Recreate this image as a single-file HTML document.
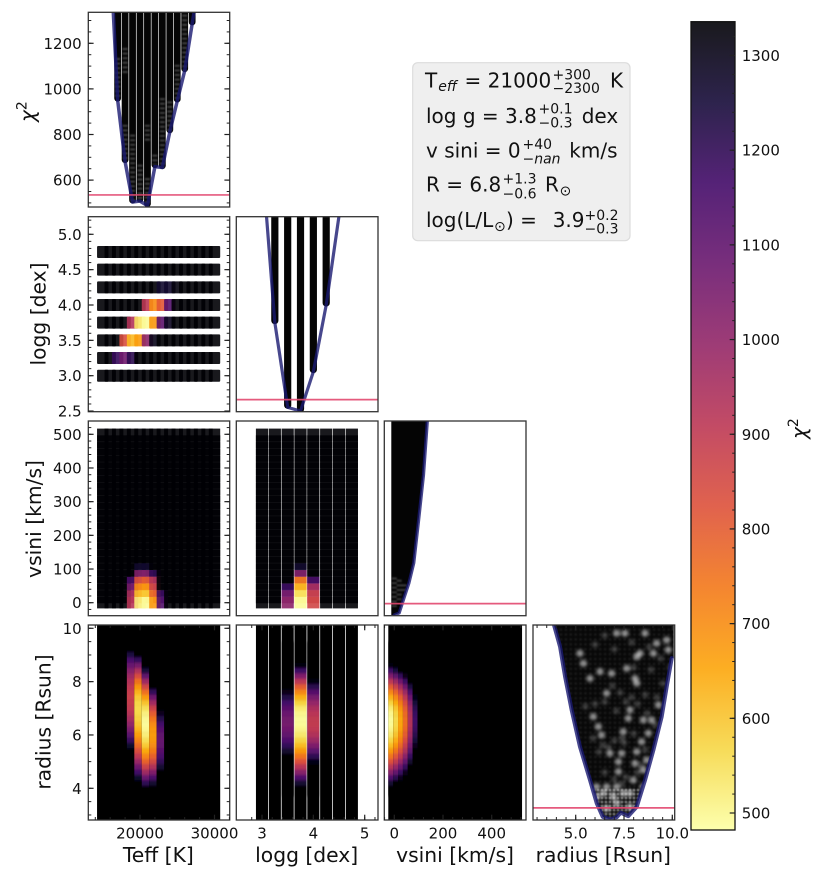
<!DOCTYPE html>
<html lang="en">
<head>
<meta charset="utf-8">
<title>Corner plot of chi-squared grid</title>
<style>
html,body{margin:0;padding:0;background:#fff;}
svg{display:block;font-family:"DejaVu Sans","Liberation Sans",sans-serif;fill:#111;filter:blur(0.35px);}
</style>
</head>
<body>
<svg id="figure" xmlns="http://www.w3.org/2000/svg" width="823" height="880" viewBox="0 0 823 880">
  <defs>
    <clipPath id="c00"><rect x="88.3" y="12.3" width="141.4" height="194.7"/></clipPath>
    <clipPath id="c10"><rect x="88.3" y="216.7" width="141.4" height="195"/></clipPath>
    <clipPath id="c11"><rect x="236.3" y="216.7" width="141.7" height="195"/></clipPath>
    <clipPath id="c20"><rect x="88.3" y="421" width="141.4" height="194.7"/></clipPath>
    <clipPath id="c21"><rect x="236.3" y="421" width="141.7" height="194.7"/></clipPath>
    <clipPath id="c22"><rect x="384.3" y="421" width="141.7" height="194.7"/></clipPath>
    <clipPath id="c30"><rect x="88.3" y="625" width="141.4" height="195"/></clipPath>
    <clipPath id="c31"><rect x="236.3" y="625" width="141.7" height="195"/></clipPath>
    <clipPath id="c32"><rect x="384.3" y="625" width="141.7" height="195"/></clipPath>
    <clipPath id="c33"><rect x="533" y="625" width="141.7" height="195"/></clipPath>
    <filter id="blurV" filterUnits="userSpaceOnUse" x="0" y="600" width="823" height="240"><feGaussianBlur stdDeviation="0 1.4"/></filter>
    <filter id="blurS" filterUnits="userSpaceOnUse" x="0" y="0" width="823" height="880"><feGaussianBlur stdDeviation="0.7"/></filter>
    <filter id="blurB" filterUnits="userSpaceOnUse" x="0" y="0" width="823" height="880"><feGaussianBlur stdDeviation="1.5"/></filter>
    <pattern id="meshFaint" width="4.9" height="4.9" patternUnits="userSpaceOnUse"><circle cx="2.4" cy="2.4" r="1.3" fill="#fff" fill-opacity="0.07"/></pattern>
    <pattern id="meshDense" width="4" height="4" patternUnits="userSpaceOnUse"><circle cx="2" cy="2" r="1.3" fill="#fff" fill-opacity="0.55"/></pattern>
    <linearGradient id="cbGradient" x1="0" y1="0" x2="0" y2="1"></linearGradient>
  </defs>
  <rect x="0" y="0" width="823" height="880" fill="#fff"/>

  <g id="p00" clip-path="url(#c00)"></g>
  <g id="p10" clip-path="url(#c10)"></g>
  <g id="p11" clip-path="url(#c11)"></g>
  <g id="p20" clip-path="url(#c20)"></g>
  <g id="p21" clip-path="url(#c21)"></g>
  <g id="p22" clip-path="url(#c22)"></g>
  <g id="p30" clip-path="url(#c30)"></g>
  <g id="p31" clip-path="url(#c31)"></g>
  <g id="p32" clip-path="url(#c32)"></g>
  <g id="p33" clip-path="url(#c33)"></g>
  <g id="axes" fill="#111" font-size="15"></g>

  <text transform="translate(34.5 122) rotate(-90)" font-size="20"><tspan font-style="italic">χ</tspan><tspan font-size="14" dy="-8">2</tspan></text>
  <text transform="translate(45.5 314) rotate(-90)" font-size="20.3" text-anchor="middle">logg [dex]</text>
  <text transform="translate(41 519) rotate(-90)" font-size="20.3" text-anchor="middle">vsini [km/s]</text>
  <text transform="translate(50.5 722) rotate(-90)" font-size="20.3" text-anchor="middle">radius [Rsun]</text>
  <text x="158.3" y="862" font-size="20.3" text-anchor="middle">Teff [K]</text>
  <text x="306.7" y="862" font-size="20.3" text-anchor="middle">logg [dex]</text>
  <text x="455" y="862" font-size="20.3" text-anchor="middle">vsini [km/s]</text>
  <text x="603.3" y="862" font-size="20.3" text-anchor="middle">radius [Rsun]</text>

  <g font-size="20" fill="#111">
    <rect x="412.7" y="62.7" width="217.3" height="178" rx="5" fill="#efefef" stroke="#dcdcdc" stroke-width="1.2"/>
    <g>
      <text x="425" y="87.3">T</text><text x="438.3" y="91" font-size="14" font-style="italic">eff</text>
      <text x="464.5" y="87.3">= 21000</text>
      <text x="552.5" y="79.3" font-size="14">+300</text><text x="552.5" y="93" font-size="14">−2300</text>
      <text x="610" y="87.3">K</text>
    </g>
    <g>
      <text x="426" y="123">log g = 3.8</text>
      <text x="538.5" y="113.3" font-size="14">+0.1</text><text x="538.5" y="127.3" font-size="14">−0.3</text>
      <text x="581.7" y="123">dex</text>
    </g>
    <g>
      <text x="426" y="157.7">v sini = 0</text>
      <text x="522.5" y="149" font-size="14">+40</text><text x="522.5" y="163.3" font-size="14">−<tspan font-style="italic">nan</tspan></text>
      <text x="569.3" y="157.7">km/s</text>
    </g>
    <g>
      <text x="426" y="191.7">R = 6.8</text>
      <text x="502.5" y="183.3" font-size="14">+1.3</text><text x="502.5" y="198.3" font-size="14">−0.6</text>
      <text x="545" y="191.7">R</text><text x="559.5" y="195.5" font-size="14">⊙</text>
    </g>
    <g>
      <text x="426" y="227">log(L/L</text><text x="494" y="231" font-size="14">⊙</text>
      <text x="506" y="227">) =</text>
      <text x="552.7" y="227">3.9</text>
      <text x="584.5" y="220" font-size="14">+0.2</text><text x="584.5" y="233.5" font-size="14">−0.3</text>
    </g>
  </g>

  <g id="colorbar" font-size="15"></g>
  <text transform="translate(806 439) rotate(-90)" font-size="20"><tspan font-style="italic">χ</tspan><tspan font-size="14" dy="-8">2</tspan></text>
</svg>

<script>
// ---------- grids ----------
const teffGrid = [15000,16000,17000,18000,19000,20000,21000,22000,23000,24000,25000,26000,27000,28000,29000,30000];
const loggGrid = [3.0,3.25,3.5,3.75,4.0,4.25,4.5,4.75];
const vsiniGrid = [0,20,40,60,80,100,120,140,160,180,200,220,240,260,280,300,320,340,360,380,400,420,440,460,480,500];
const radiusRows = [9.4,9.2,9.0,8.8,8.6,8.4,8.2,8.0,7.8,7.6,7.4,7.2,7.0,6.8,6.6,6.4,6.2,6.0,5.8,5.6,5.4,5.2,5.0,4.8,4.6,4.4,4.2,4.0,3.8];
const F = 1400; // chi2 above colour range: renders black

// ---------- Teff vs logg cells (rows follow loggRowsShown, columns follow teffGrid) ----------
const loggRowsShown = [4.75,4.5,4.25,4.0,3.75,3.5,3.25,3.0];
const teffLoggChi2 = [
 [F,F,F,F,F,F,F,F,F,F,F,F,F,F,F,F],
 [F,F,F,F,F,F,F,F,F,F,F,F,F,F,F,F],
 [F,F,F,F,F,F,F,F,1270,1270,1320,F,F,F,F,F],
 [F,F,F,F,F,1380,910,700,810,1130,F,F,F,F,F,F],
 [F,F,F,F,930,540,490,680,1110,1290,F,F,F,F,F,F],
 [F,F,F,840,620,670,1010,1300,F,F,F,F,F,F,F,F],
 [F,F,1190,1070,1210,F,F,F,F,F,F,F,F,F,F,F],
 [F,F,F,F,F,F,F,F,F,F,F,F,F,F,F,F]
];

// ---------- vsini cells with chi2 in range; every other vsini row is above range ----------
const vsiniRowsHot = [0,20,40,60,80,100];
const teffVsiniChi2 = [
 [F,F,F,F,920,520,490,680,1130,F,F,F,F,F,F,F],
 [F,F,F,F,950,610,590,780,1180,F,F,F,F,F,F,F],
 [F,F,F,F,1050,700,680,870,F,F,F,F,F,F,F,F],
 [F,F,F,F,1150,820,800,930,F,F,F,F,F,F,F,F],
 [F,F,F,F,F,1030,1030,1200,F,F,F,F,F,F,F,F],
 [F,F,F,F,F,1270,1270,F,F,F,F,F,F,F,F,F]
];
const loggVsiniChi2 = [
 [F,F,1010,490,860,F,F,F],
 [F,F,1050,540,880,F,F,F],
 [F,F,1180,620,950,F,F,F],
 [F,F,F,730,1150,F,F,F],
 [F,F,F,1030,F,F,F,F],
 [F,F,F,1270,F,F,F,F]
];

// ---------- radius columns (values follow radiusRows) ----------
const teffRadiusT19000 = [F,1336,1240,1156,1083,1021,970,931,902,886,880,885,899,923,957,1000,1053,1115,1187,1269,1350,F,F,F,F,F,F,F,F];
const teffRadiusT20000 = [F,F,1336,1189,1057,940,839,754,684,630,591,568,560,564,577,598,628,666,713,768,832,903,984,1072,1169,1274,1388,F,F];
const teffRadiusT21000 = [F,F,F,F,F,1254,1105,973,856,756,671,603,551,515,495,490,499,519,550,592,645,710,786,874,973,1083,1204,1336,F];
const teffRadiusT22000 = [F,F,F,F,F,F,F,F,1336,1195,1072,965,875,801,744,703,678,670,677,699,736,788,854,935,1033,1141,1265,F,F];
const teffRadiusT23000 = [F,F,F,F,F,F,F,F,F,F,F,F,1350,1293,1220,1163,1122,1098,1090,1097,1117,1152,1199,1261,1336,F,F,F,F];
const teffRadiusColumns = {19000:teffRadiusT19000,20000:teffRadiusT20000,21000:teffRadiusT21000,22000:teffRadiusT22000,23000:teffRadiusT23000};

const loggRadius350 = [F,F,F,F,F,F,F,F,F,1307,1229,1165,1117,1083,1064,1060,1072,1098,1139,1195,1266,1351,F,F,F,F,F,F,F];
const loggRadius375 = [F,F,F,F,1330,1174,1034,910,802,710,634,574,530,502,490,493,507,532,569,616,675,745,826,919,1022,1137,1263,F,F];
const loggRadius400 = [F,F,F,F,F,F,F,1315,1214,1126,1053,993,948,916,899,895,907,935,979,1038,1113,1204,1311,F,F,F,F,F,F];
const loggRadiusColumns = {3.5:loggRadius350,3.75:loggRadius375,4:loggRadius400};

const vsiniRadius0 = [F,F,F,F,1330,1174,1034,910,802,710,634,574,530,502,490,493,507,532,569,616,675,745,826,919,1022,1137,1263,F,F];
const vsiniRadius20 = [F,F,F,F,F,1244,1104,980,872,780,704,644,600,572,560,563,577,602,639,686,745,815,896,989,1092,1207,1333,F,F];
const vsiniRadius40 = [F,F,F,F,F,1334,1194,1070,962,870,794,734,690,662,650,653,667,692,729,776,835,905,986,1079,1182,1297,F,F,F];
const vsiniRadius60 = [F,F,F,F,F,F,1304,1180,1072,980,904,844,800,772,760,763,777,802,839,886,945,1015,1096,1189,1292,F,F,F,F];
const vsiniRadius80 = [F,F,F,F,F,F,F,1350,1242,1150,1074,1014,970,942,930,933,947,972,1009,1056,1115,1185,1266,1359,F,F,F,F,F];
const vsiniRadius100 = [F,F,F,F,F,F,F,F,F,F,1314,1254,1210,1182,1170,1173,1187,1212,1249,1296,1355,F,F,F,F,F,F,F,F];
const vsiniRadiusColumns = {0:vsiniRadius0,20:vsiniRadius20,40:vsiniRadius40,60:vsiniRadius60,80:vsiniRadius80,100:vsiniRadius100};

// ---------- chi2 lower envelopes ----------
const teffEnvelopeT = [16000,17000,18000,19000,20000,21000,22000,23000,24000,25000,26000,27000,28000];
const teffEnvelopeChi2 = [1610,951,681,504,508,488,659,655,812,947,1080,1285,1490];
const loggEnvelopeG = [3.0,3.25,3.5,3.75,4.0,4.25,4.5];
const loggEnvelopeChi2 = [1590,872,501,485,657,949,1340];
const vsiniEnvelopeV = [0,20,40,60,80,100,120,140];
const vsiniEnvelopeChi2 = [485,494,560,625,713,902,1100,1400];
const radiusEnvelopeR = [3.89,4.19,4.45,4.79,5.22,5.74,6.09,6.40,6.78,7.12,7.33,7.72,8.16,8.59,9.02,9.45,9.71,9.97];
const radiusEnvelopeChi2 = [1332,1241,1110,964,803,657,555,496,485,494,514,499,540,657,788,934,1066,1191];
const bestChi2Limit = 535;

// ---------- light, sparsely sampled stretches in the scatter columns ----------
const teffPatchT = [17000,18000,18000,19000,20000,21000,21000,22000,23000,24000,25000,26000];
const teffPatchHigh = [1136,1180,843,800,668,843,609,712,960,946,1106,1326];
const teffPatchLow = [960,1060,682,492,492,770,492,668,653,814,946,1077];
const vsiniPatchV = [0,20,40];
const vsiniPatchHigh = [650,640,620];
const vsiniPatchLow = [520,540,580];

// ---------- bright and dim clumps in the radius scatter ----------
const clumpRadius = [7.55,8.59,9.19,9.02,9.71,9.79,8.33,8.16,7.12,6.86,6.26,8.07,8.16,5.74,7.64,7.81,7.72,5.91,6.17,6.34,7.46,8.41,8.76,8.93,9.28,7.21,8.07,8.16,7.38,7.21,7.12,6.43,7.81,6.6,7.81,7.12,6.77,8.5,6.6,5.22,5.4,6.08,6.6,8.5,7.46,6.08,6.95,7.98,8.5,8.67];
const clumpChi2 = [1300,1300,1256,1212,1270,1227,1212,1197,1300,1124,1132,1102,1081,1102,1146,964,927,935,891,854,869,825,862,920,986,737,730,781,774,694,628,599,599,533,540,555,774,920,1037,1212,1168,628,628,628,599,584,584,657,701,745];
const dimClumpRadius = [6.0,6.5,7.0,7.9,8.8,9.4,9.9,8.0,8.9,9.5,6.9,7.3,7.9,8.6,9.2,5.5,6.0,6.5,7.1,7.6,8.2,8.7,9.1,5.9,6.4,7.0,7.5,8.6,6.2,6.7,7.4,8.0,8.4,6.5,7.0,7.6,8.2,6.9,7.4];
const dimClumpChi2 = [1250,1290,1230,1260,1240,1190,1150,1150,1140,1080,1070,1040,1020,1030,1020,980,990,1000,960,1000,990,950,900,840,810,830,820,790,780,800,840,860,720,690,660,670,690,600,640];
const denseBandChi2 = 625;

// ---------- axis ticks ----------
const chi2Ticks = [600,800,1000,1200];
const loggYTicks = [2.5,3,3.5,4,4.5,5];
const loggYLabels = ['2.5','3.0','3.5','4.0','4.5','5.0'];
const vsiniYTicks = [0,100,200,300,400,500];
const radiusYTicks = [4,6,8,10];
const teffXTicks = [20000,30000];
const loggXTicks = [3,4,5];
const vsiniXTicks = [0,200,400];
const radiusXTicks = [5,7.5,10];
const radiusXLabels = ['5.0','7.5','10.0'];
const cbTicks = [500,600,700,800,900,1000,1100,1200,1300];

// ---------- colour map ----------
const infernoStops = ['#000004','#160b39','#420a68','#6a176e','#932667','#bc3754','#dd513a','#f37819','#fca50a','#f6d746','#fcffa4'];
const chi2Min = 482, chi2Max = 1336, alpha = 0.9;

function hexRgb(h){return [parseInt(h.slice(1,3),16),parseInt(h.slice(3,5),16),parseInt(h.slice(5,7),16)];}
function chi2Color(c){
  let t = 1-(c-chi2Min)/(chi2Max-chi2Min);
  t = Math.max(0,Math.min(1,t));
  const p = t*(infernoStops.length-1), i = Math.min(Math.floor(p),infernoStops.length-2), f = p-i;
  const a = hexRgb(infernoStops[i]), b = hexRgb(infernoStops[i+1]);
  return 'rgb('+a.map((v,k)=>Math.round(v+(b[k]-v)*f)).join(',')+')';
}
function linear(d0,d1,r0,r1){return v=>r0+(v-d0)*(r1-r0)/(d1-d0);}

// ---------- axis functions ----------
const teffX = linear(20000,30000,140,214.5);
const loggX = linear(3,5,262,364.7);
const vsiniX = linear(0,400,394.3,491.7);
const radiusX = linear(5,10,575.7,672.3);
const loggY = linear(5,3,234.3,375.7);
const vsiniY = linear(500,0,434.3,602.7);
const radiusY = linear(10,4,628.3,788.3);
const chi2YRow0 = linear(chi2Max,chi2Min,12.3,207);
const chi2YRow1 = linear(chi2Max,chi2Min,216.7,411.7);
const chi2YRow2 = linear(chi2Max,chi2Min,421,615.7);
const chi2YRow3 = linear(chi2Max,chi2Min,625,820);
const cbY = linear(1300,500,55.5,813);

const NS = 'http://www.w3.org/2000/svg';
function make(parent,tag,attrs){
  const el = document.createElementNS(NS,tag);
  for(const k in attrs) el.setAttribute(k,attrs[k]);
  parent.appendChild(el);
  return el;
}
const $ = id => document.getElementById(id);

// ---------- heat cells drawn as overlapping translucent square markers ----------
function drawTeffLogg(){
  const g = $('p10');
  loggRowsShown.forEach((lg,r)=>{
    teffGrid.forEach((t,c)=>{
      const el = make(g,'rect',{x:teffX(t)-5.7,y:loggY(lg)-6,width:11.4,height:12,rx:1,fill:chi2Color(teffLoggChi2[r][c]),'fill-opacity':alpha});
      
      
    });
  });
}
function cellChi2(rows,matrix,v,c){
  const idx = rows.indexOf(v);
  return idx<0 ? F : matrix[idx][c];
}
function markerHeight(v){return v===vsiniGrid[0] ? 11.4 : 13;}
function drawTeffVsini(){
  const g = $('p20');
  for(let r=vsiniGrid.length-1;r>=0;r--){
    teffGrid.forEach((t,c)=>{
      const el = make(g,'rect',{x:teffX(t)-5.7,y:vsiniY(vsiniGrid[r])-5.7,width:11.4,height:markerHeight(vsiniGrid[r]),fill:chi2Color(cellChi2(vsiniRowsHot,teffVsiniChi2,vsiniGrid[r],c)),'fill-opacity':alpha});
      
      
    });
  }
}
function drawLoggVsini(){
  const g = $('p21');
  for(let r=vsiniGrid.length-1;r>=0;r--){
    loggGrid.forEach((lg,c)=>{
      const el = make(g,'rect',{x:loggX(lg)-6.1,y:vsiniY(vsiniGrid[r])-5.7,width:12.2,height:markerHeight(vsiniGrid[r]),fill:chi2Color(cellChi2(vsiniRowsHot,loggVsiniChi2,vsiniGrid[r],c)),'fill-opacity':alpha});
      
      
    });
  }
}
function drawRadiusHeat(panel,grid,xFn,halfW,columns,name){
  const outer = $(panel);
  const g = make(outer,'g',{filter:'url(#blurV)'});
  
  
  grid.forEach(v=>{
    const base = make(g,'rect',{x:xFn(v)-halfW,y:600,width:2*halfW,height:240,fill:'#000003'});
    
    
    const col = columns[v];
    if(!col) return;
    radiusRows.forEach((r,i)=>{
      const el = make(g,'rect',{x:xFn(v)-halfW,y:radiusY(r)-2.75,width:2*halfW,height:5.5,fill:chi2Color(col[i])});
      
      
    });
  });
}

// ---------- chi2 scatter columns ----------
function drawColumns(panel,xs,chis,xFn,yFn,barW,name){
  const g = $(panel);
  xs.forEach((x,i)=>{
    const top = yFn(chi2Max)-12, bottom = yFn(chis[i])+1.5;
    if(bottom<=yFn(chi2Max)) return;
    const el = make(g,'rect',{x:xFn(x)-barW/2,y:top,width:barW,height:bottom-top,rx:barW/2,fill:'#050505'});
    
    
  });
}
function drawPatches(panel,xs,hi,lo,xFn,yFn,w,op,name){
  const g = make($(panel),'g',{filter:'url(#blurS)'});
  
  
  xs.forEach((x,i)=>{
    const el = make(g,'line',{x1:xFn(x),x2:xFn(x),y1:yFn(hi[i]),y2:yFn(lo[i]),stroke:'#fff','stroke-opacity':op,'stroke-width':w,'stroke-dasharray':'2.2 2.4'});
    
    
  });
}
function drawEnvelope(panel,xs,chis,xFn,yFn,w,name){
  const pts = xs.map((x,i)=>xFn(x).toFixed(2)+','+yFn(chis[i]).toFixed(2)).join(' ');
  const el = make($(panel),'polyline',{points:pts,fill:'none',stroke:'rgb(25,25,112)','stroke-opacity':0.8,'stroke-width':w,'stroke-linejoin':'round','stroke-linecap':'round'});
  
  
}
function drawLimit(panel,x0,x1,yFn,name){
  const y = yFn(bestChi2Limit);
  const el = make($(panel),'line',{x1:x0,x2:x1,y1:y,y2:y,stroke:'#e2486f','stroke-opacity':0.9,'stroke-width':1.7});
  
  
}
function drawVsiniFill(){
  // filled body of the vsini scatter between the left edge and the lower envelope
  const g = $('p22');
  const leftX = vsiniX(vsiniEnvelopeV[0])-3;
  const pts = [[leftX,chi2YRow2(chi2Max)-12],[leftX,chi2YRow2(vsiniEnvelopeChi2[0])]]
    .concat(vsiniEnvelopeV.map((v,i)=>[vsiniX(v),chi2YRow2(vsiniEnvelopeChi2[i])]))
    .map(p=>p[0].toFixed(2)+','+p[1].toFixed(2)).join(' ');
  const el = make(g,'polygon',{points:pts,fill:'#040404'});
  
  
}
function drawRadiusScatter(){
  const g = $('p33');
  const topChi = chi2Max+40;
  const xs = radiusEnvelopeR.slice(), ys = radiusEnvelopeChi2.slice();
  const pts = [[radiusX(xs[0]),chi2YRow3(topChi)]]
    .concat(xs.map((x,i)=>[radiusX(x),chi2YRow3(ys[i])]))
    .concat([[radiusX(xs[xs.length-1])+2,chi2YRow3(ys[ys.length-1])],[radiusX(xs[xs.length-1])+2,chi2YRow3(topChi)]])
    .map(p=>p[0].toFixed(2)+','+p[1].toFixed(2)).join(' ');
  const body = make(g,'polygon',{points:pts,fill:'#080808'});
  
  

  const defs = document.querySelector('defs');
  const clip = make(defs,'clipPath',{id:'radiusBody'});
  make(clip,'polygon',{points:pts});

  const texture = make(g,'g',{'clip-path':'url(#radiusBody)'});
  
  
  const meshWrap = make(texture,'g',{filter:'url(#blurS)'});
  
  
  const mesh = make(meshWrap,'rect',{x:533,y:625,width:142,height:195,fill:'url(#meshFaint)'});
  
  
  const bandY = chi2YRow3(denseBandChi2);
  const band = make(meshWrap,'rect',{x:533,y:bandY,width:142,height:820-bandY,fill:'url(#meshDense)'});
  
  

  const cl = make(texture,'g',{filter:'url(#blurB)'});
  
  
  dimClumpRadius.forEach((r,i)=>{
    const el = make(cl,'circle',{cx:radiusX(r),cy:chi2YRow3(dimClumpChi2[i]),r:3.2,fill:'#fff','fill-opacity':0.22});
    
    
  });
  clumpRadius.forEach((r,i)=>{
    const el = make(cl,'circle',{cx:radiusX(r),cy:chi2YRow3(clumpChi2[i]),r:3.6,fill:'#fff','fill-opacity':0.55});
    
    
  });
}

// ---------- frames and ticks ----------
function frame(x0,y0,x1,y1,name){
  const el = make($('axes'),'rect',{x:x0,y:y0,width:x1-x0,height:y1-y0,fill:'none',stroke:'#333','stroke-width':1.3});
  
  
}
function yTicks(x0,x1,y0,y1,fn,majors,minorFrom,minorTo,minorStep,labels,name){
  const g = $('axes');
  for(let v=minorFrom;v<=minorTo+1e-9;v+=minorStep){
    const y = fn(v);
    if(y<y0||y>y1) continue;
    [[x0,x0+3],[x1,x1-3]].forEach(p=>{
      const el = make(g,'line',{x1:p[0],x2:p[1],y1:y,y2:y,stroke:'#222','stroke-width':1});
      
      
    });
  }
  majors.forEach((v,i)=>{
    const y = fn(v);
    [[x0,x0+5.3],[x1,x1-5.3]].forEach(p=>{
      const el = make(g,'line',{x1:p[0],x2:p[1],y1:y,y2:y,stroke:'#222','stroke-width':1.2});
      
      
    });
    const t = make(g,'text',{x:81.7,y:y+5.5,'text-anchor':'end'});
    t.textContent = labels[i];
    
    
  });
}
function xTicks(y0,y1,x0,x1,fn,majors,minorFrom,minorTo,minorStep,labels,name){
  const g = $('axes');
  for(let v=minorFrom;v<=minorTo+1e-9;v+=minorStep){
    const x = fn(v);
    if(x<x0||x>x1) continue;
    [[y0,y0+3],[y1,y1-3]].forEach(p=>{
      const el = make(g,'line',{x1:x,x2:x,y1:p[0],y2:p[1],stroke:'#222','stroke-width':1});
      
      
    });
  }
  majors.forEach((v,i)=>{
    const x = fn(v);
    [[y0,y0+5.3],[y1,y1-5.3]].forEach(p=>{
      const el = make(g,'line',{x1:x,x2:x,y1:p[0],y2:p[1],stroke:'#222','stroke-width':1.2});
      
      
    });
    const t = make(g,'text',{x:x,y:838.3,'text-anchor':'middle'});
    t.textContent = labels[i];
    
    
  });
}

// ---------- colour bar ----------
function drawColorbar(){
  const grad = $('cbGradient');
  infernoStops.forEach((c,i)=>{
    make(grad,'stop',{offset:(i/(infernoStops.length-1)),'stop-color':c,'stop-opacity':alpha});
  });
  const g = $('colorbar');
  const x0 = 691, x1 = 735, y0 = 21.7, y1 = 830;
  const bar = make(g,'rect',{x:x0,y:y0,width:x1-x0,height:y1-y0,fill:'url(#cbGradient)'});
  
  
  const box = make(g,'rect',{x:x0,y:y0,width:x1-x0,height:y1-y0,fill:'none',stroke:'#111','stroke-width':1.3});
  
  
  for(let v=500;v<=1320;v+=20){
    const el = make(g,'line',{x1:x1,x2:x1-2.8,y1:cbY(v),y2:cbY(v),stroke:'#222','stroke-width':1});
    
    
  }
  cbTicks.forEach(v=>{
    const el = make(g,'line',{x1:x1,x2:x1-5.3,y1:cbY(v),y2:cbY(v),stroke:'#222','stroke-width':1.2});
    
    
    const t = make(g,'text',{x:741.7,y:cbY(v)+5.5});
    t.textContent = String(v);
    
    
  });
}

// ---------- build ----------
drawColumns('p00',teffEnvelopeT,teffEnvelopeChi2,teffX,chi2YRow0,6.8,'teff-chi2');
drawPatches('p00',teffPatchT,teffPatchHigh,teffPatchLow,teffX,chi2YRow0,5,0.22,'teff-chi2');
drawEnvelope('p00',teffEnvelopeT,teffEnvelopeChi2,teffX,chi2YRow0,3.5,'teff-chi2');
drawLimit('p00',88.3,229.7,chi2YRow0,'teff-chi2');

drawTeffLogg();

drawColumns('p11',loggEnvelopeG,loggEnvelopeChi2,loggX,chi2YRow1,7.2,'logg-chi2');
drawEnvelope('p11',loggEnvelopeG,loggEnvelopeChi2,loggX,chi2YRow1,3.2,'logg-chi2');
drawLimit('p11',236.3,378,chi2YRow1,'logg-chi2');

drawTeffVsini();
drawLoggVsini();

drawVsiniFill();
drawPatches('p22',vsiniPatchV,vsiniPatchHigh,vsiniPatchLow,vsiniX,chi2YRow2,5,0.2,'vsini-chi2');
drawEnvelope('p22',vsiniEnvelopeV,vsiniEnvelopeChi2,vsiniX,chi2YRow2,3.2,'vsini-chi2');
drawLimit('p22',384.3,526,chi2YRow2,'vsini-chi2');

drawRadiusHeat('p30',teffGrid,teffX,5.7,teffRadiusColumns,'teff-radius');
drawRadiusHeat('p31',loggGrid,loggX,6.05,loggRadiusColumns,'logg-radius');
drawRadiusHeat('p32',vsiniGrid,vsiniX,6,vsiniRadiusColumns,'vsini-radius');

drawRadiusScatter();
drawEnvelope('p33',radiusEnvelopeR,radiusEnvelopeChi2,radiusX,chi2YRow3,4,'radius-chi2');
drawLimit('p33',533,674.7,chi2YRow3,'radius-chi2');

frame(88.3,12.3,229.7,207,'teff-chi2');
frame(88.3,216.7,229.7,411.7,'teff-logg');
frame(236.3,216.7,378,411.7,'logg-chi2');
frame(88.3,421,229.7,615.7,'teff-vsini');
frame(236.3,421,378,615.7,'logg-vsini');
frame(384.3,421,526,615.7,'vsini-chi2');
frame(88.3,625,229.7,820,'teff-radius');
frame(236.3,625,378,820,'logg-radius');
frame(384.3,625,526,820,'vsini-radius');
frame(533,625,674.7,820,'radius-chi2');

yTicks(88.3,229.7,12.3,207,chi2YRow0,chi2Ticks,500,1300,50,chi2Ticks.map(String),'chi2-y');
yTicks(88.3,229.7,216.7,411.7,loggY,loggYTicks,2.5,5.2,0.1,loggYLabels,'logg-y');
yTicks(88.3,229.7,421,615.7,vsiniY,vsiniYTicks,-20,520,20,vsiniYTicks.map(String),'vsini-y');
yTicks(88.3,229.7,625,820,radiusY,radiusYTicks,3,10,0.5,radiusYTicks.map(String),'radius-y');

xTicks(625,820,88.3,229.7,teffX,teffXTicks,14000,32000,2000,teffXTicks.map(String),'teff-x');
xTicks(625,820,236.3,378,loggX,loggXTicks,2.8,5.2,0.2,loggXTicks.map(String),'logg-x');
xTicks(625,820,384.3,526,vsiniX,vsiniXTicks,-40,520,40,vsiniXTicks.map(String),'vsini-x');
xTicks(625,820,533,674.7,radiusX,radiusXTicks,3,10,0.5,radiusXLabels,'radius-x');

drawColorbar();
</script>
</body>
</html>
